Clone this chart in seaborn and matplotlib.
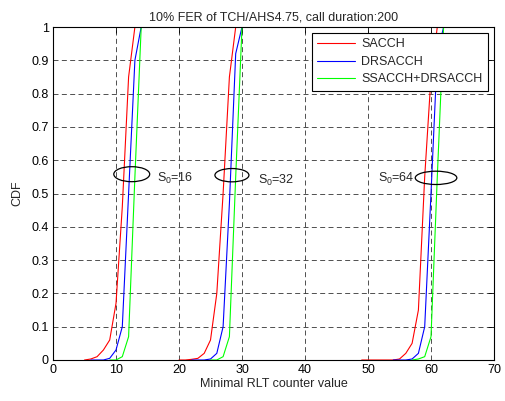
import numpy as np
import pandas as pd
import seaborn as sns
import matplotlib
matplotlib.use("Agg")
import matplotlib.pyplot as plt
from matplotlib.patches import Ellipse

# ---- data ----
series_names = ["SACCH", "DRSACCH", "SSACCH+DRSACCH"]
series_colors = ["#ff0000", "#0000ff", "#00ff00"]
groups = ["16", "32", "64"]

sacch_x = [[5, 6, 7, 8, 9, 10, 11, 12, 13, 14],
           [20, 21, 22, 23, 24, 25, 26, 27, 28, 29, 30],
           [49, 54, 55, 56, 57, 58, 59, 60, 61, 62]]
sacch_y = [[0, 0.003, 0.01, 0.03, 0.06, 0.17, 0.46, 0.85, 1, 1],
           [0, 0, 0.002, 0.005, 0.02, 0.06, 0.2, 0.5, 0.85, 1, 1],
           [0, 0, 0.003, 0.02, 0.05, 0.15, 0.55, 0.85, 1, 1]]

drsacch_x = [[6, 7, 8, 9, 10, 11, 12, 13, 14, 15],
             [22, 23, 24, 25, 26, 27, 28, 29, 30, 31],
             [54, 56, 57, 58, 59, 60, 61, 62, 63]]
drsacch_y = [[0, 0, 0, 0.005, 0.03, 0.1, 0.5, 0.9, 1, 1],
             [0, 0, 0, 0.003, 0.02, 0.1, 0.47, 0.92, 1, 1],
             [0, 0, 0.003, 0.02, 0.1, 0.5, 0.92, 1, 1]]

ssacch_x = [[9, 10, 11, 12, 13, 14, 15],
            [25, 26, 27, 28, 29, 30, 31],
            [57, 58, 59, 60, 61, 62, 63]]
ssacch_y = [[0, 0, 0.01, 0.07, 0.55, 1, 1],
            [0, 0, 0.01, 0.07, 0.55, 1, 1],
            [0, 0.003, 0.01, 0.07, 0.55, 1, 1]]

ellipse_x = [12.5, 28.4, 60.8]
ellipse_y = [0.558, 0.555, 0.547]
ellipse_w = [5.7, 5.4, 6.6]
ellipse_h = [0.045, 0.04, 0.04]
label_x = [16.5, 32.5, 51.6]
label_y = [0.545, 0.54, 0.545]

xticks = list(range(0, 71, 10))
yticks = [round(v, 1) for v in np.arange(0, 1.01, 0.1)]
ytick_labels = ["0", "0.1", "0.2", "0.3", "0.4", "0.5", "0.6", "0.7", "0.8", "0.9", "1"]

# ---- build long-form table ----
rows = []
for name, xs, ys in zip(series_names, [sacch_x, drsacch_x, ssacch_x], [sacch_y, drsacch_y, ssacch_y]):
    for g, gx, gy in zip(groups, xs, ys):
        for i, (xv, yv) in enumerate(zip(gx, gy)):
            rows.append({"x": xv, "y": yv, "series": name, "group": g, "order": i})
df = pd.DataFrame(rows)

sns.set_style("white")
plt.rcParams["font.family"] = ["Liberation Sans", "DejaVu Sans"]
plt.rcParams["mathtext.fontset"] = "custom"
plt.rcParams["mathtext.rm"] = "Liberation Sans"
plt.rcParams["mathtext.it"] = "Liberation Sans"

FS = 9

fig = plt.figure(figsize=(5.05, 4.01), dpi=100)
ax = fig.add_axes([53 / 505, 1 - 360 / 401, (494 - 53) / 505, (360 - 27) / 401])

sns.lineplot(data=df, x="x", y="y", hue="series", units="group", estimator=None,
             sort=False, palette=dict(zip(series_names, series_colors)),
             hue_order=series_names, linewidth=0.8, ax=ax)

ax.set_xlim(0, 70)
ax.set_ylim(0, 1)
ax.set_xticks(xticks)
ax.set_yticks(yticks)
ax.set_yticklabels(ytick_labels)
ax.tick_params(direction="in", length=4, width=0.6, labelsize=FS, top=True, right=True,
               colors="black", pad=3)
ax.grid(True, color="#333333", linestyle=(0, (6, 4)), linewidth=0.6)
for s in ax.spines.values():
    s.set_color("black")
    s.set_linewidth(0.8)

ax.set_xlabel("Minimal RLT counter value", fontsize=FS, labelpad=1)
ax.set_ylabel("CDF", fontsize=FS, labelpad=6)
ax.set_title("10% FER of TCH/AHS4.75, call duration:200", fontsize=FS, pad=5)

for ex, ey, ew, eh in zip(ellipse_x, ellipse_y, ellipse_w, ellipse_h):
    ax.add_patch(Ellipse((ex, ey), ew, eh, fill=False, edgecolor="black", linewidth=0.9, zorder=5))
for lx, ly, g in zip(label_x, label_y, groups):
    ax.text(lx, ly, r"S$_0$=" + g, fontsize=FS, va="center", ha="left")

leg = ax.legend(loc="upper right", fontsize=FS, frameon=True, fancybox=False,
                edgecolor="black", framealpha=1, handlelength=3.0, handletextpad=0.55,
                labelspacing=0.45, borderaxespad=0.45, borderpad=0.45)
leg.get_frame().set_linewidth(0.8)
leg.set_title(None)

fig.savefig("out.png", dpi=100)
